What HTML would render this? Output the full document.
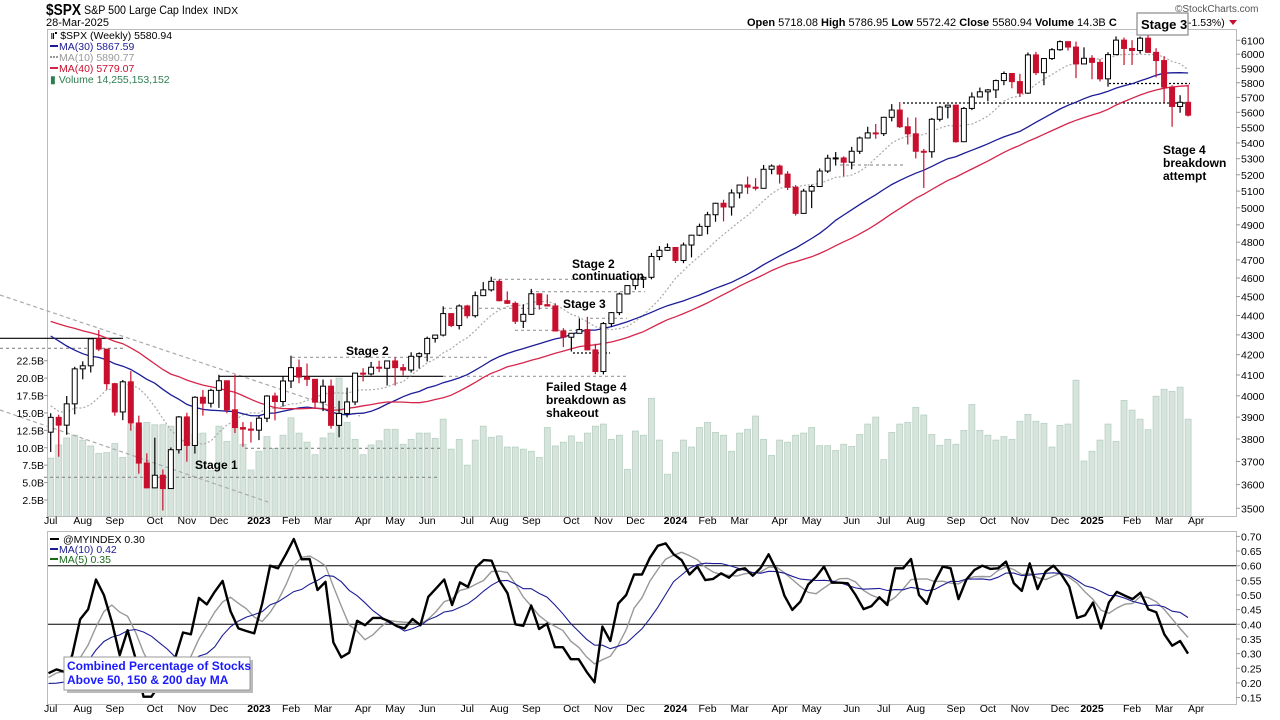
<!DOCTYPE html>
<html><head><meta charset="utf-8"><style>
html,body{margin:0;padding:0;background:#fff;}
svg{display:block;font-family:"Liberation Sans",Arial,sans-serif;}
</style></head><body>
<svg id="chart" width="1280" height="720" viewBox="0 0 1280 720" xmlns="http://www.w3.org/2000/svg">
<rect x="0" y="0" width="1280" height="720" fill="#fff"/>
<g>
<text x="46" y="15" font-size="15.5" font-weight="bold" fill="#000" textLength="35" lengthAdjust="spacingAndGlyphs">$SPX</text>
<text x="84" y="14" font-size="12" fill="#000" textLength="124" lengthAdjust="spacingAndGlyphs">S&amp;P 500 Large Cap Index</text>
<text x="213" y="14" font-size="10.5" fill="#000">INDX</text>
<text x="46" y="26" font-size="11" fill="#000">28-Mar-2025</text>
<text x="1175" y="12" font-size="10" fill="#555">©StockCharts.com</text>
<text x="747" y="26" font-size="11" fill="#000"><tspan font-weight="bold">Open</tspan> 5718.08  <tspan font-weight="bold">High</tspan> 5786.95  <tspan font-weight="bold">Low</tspan> 5572.42  <tspan font-weight="bold">Close</tspan> 5580.94  <tspan font-weight="bold">Volume</tspan> 14.3B  <tspan font-weight="bold">C</tspan></text>
<text x="1188" y="26" font-size="10.5" fill="#000">-1.53%)</text>
<polygon points="1229,20 1237,20 1233,25" fill="#c8102e"/>
</g>
<rect x="47.5" y="29.5" width="1189" height="487" fill="none" stroke="#bbb"/>
<rect x="47.5" y="531.5" width="1189" height="173" fill="none" stroke="#bbb"/>
<defs>
<clipPath id="mainClip"><rect x="48" y="30" width="1188" height="486"/></clipPath>
<clipPath id="lowClip"><rect x="48" y="532" width="1188" height="172"/></clipPath>
</defs>
<g id="volG" clip-path="url(#mainClip)"></g>
<g id="annoLines"></g>
<g id="maG" clip-path="url(#mainClip)"></g>
<g id="candleG" clip-path="url(#mainClip)"></g>
<g id="axisG"></g>
<g id="lowG" clip-path="url(#lowClip)"></g>
<g font-size="10.5">
<rect x="48" y="30" width="165" height="55" fill="#fff" opacity="0.85"/>
<text x="51" y="39" fill="#000">⑈ $SPX (Weekly) 5580.94</text>
<line x1="50" y1="46" x2="58" y2="46" stroke="#1c1c96" stroke-width="2"/><text x="59" y="50" fill="#1c1c96">MA(30) 5867.59</text>
<line x1="50" y1="57" x2="58" y2="57" stroke="#999" stroke-width="2" stroke-dasharray="2,1"/><text x="59" y="61" fill="#999">MA(10) 5890.77</text>
<line x1="50" y1="68" x2="58" y2="68" stroke="#d6254a" stroke-width="2"/><text x="59" y="72" fill="#c8102e">MA(40) 5779.07</text>
<text x="50" y="83" fill="#2e7d4f">▮ Volume 14,255,153,152</text>
</g>
<g font-size="10.5">
<line x1="50" y1="539" x2="59" y2="539" stroke="#000" stroke-width="2"/><text x="63" y="543" fill="#000">@MYINDEX 0.30</text>
<line x1="50" y1="549" x2="58" y2="549" stroke="#1c1c96" stroke-width="2"/><text x="59" y="553" fill="#1c1c96">MA(10) 0.42</text>
<line x1="50" y1="559" x2="58" y2="559" stroke="#1b6b1b" stroke-width="2"/><text x="59" y="563" fill="#1b6b1b">MA(5) 0.35</text>
</g>
<g font-size="12" font-weight="bold" fill="#000">
<text x="346" y="355">Stage 2</text>
<text x="195" y="469">Stage 1</text>
<text x="572" y="268">Stage 2</text>
<text x="572" y="280">continuation</text>
<text x="563" y="308">Stage 3</text>
<text x="546" y="391">Failed Stage 4</text>
<text x="546" y="404">breakdown as</text>
<text x="546" y="417">shakeout</text>
<text x="1163" y="154">Stage 4</text>
<text x="1163" y="167">breakdown</text>
<text x="1163" y="180">attempt</text>
</g>
<g>
<rect x="1137" y="13" width="51" height="22" fill="#fff" stroke="#888" stroke-width="1.2"/>
<text x="1141" y="29" font-size="13" font-weight="bold">Stage 3</text>
</g>
<g>
<rect x="67" y="660" width="186" height="33" fill="#bbb"/>
<rect x="64" y="657" width="186" height="33" fill="#fff" stroke="#999"/>
<text x="67" y="670" font-size="12" font-weight="bold" fill="#1a1aff">Combined Percentage of Stocks</text>
<text x="67" y="684" font-size="12" font-weight="bold" fill="#1a1aff">Above 50, 150 &amp; 200 day MA</text>
</g>
</svg>
<script>
// ---- data ----
const preCloses=[4357,4391,4471,4545,4605,4698,4683,4698,4595,4538,4712,4620,4725,4766,4677,4663,4398,4432,4501,4419,4349,4385,4329,4204,4463,4543,4546,4488,4393,4272,4132,4123,4024,3901,4158,4109,3901,3675,3912,3825];
const closes=[3899,3863,3962,4130,4145,4280,4228,4058,3924,4067,3873,3693,3586,3640,3583,3752,3901,3771,3993,3965,4026,4072,3934,3852,3845,3840,
3895,3999,3973,4071,4136,4090,4079,3970,4046,3862,3917,3971,4109,4105,4138,4133,4169,4136,4124,4192,4205,4282,4299,4410,4348,4450,4399,4505,4536,4582,4478,4464,4370,4406,4515,4457,4450,4320,4288,4308,4327,4224,4117,4358,4415,4514,4559,4594,4604,4719,4754,4770,
4697,4784,4840,4891,4959,5027,5005,5089,5137,5124,5117,5234,5254,5204,5123,4967,5100,5128,5223,5303,5305,5278,5347,5432,5465,5460,5567,5615,5505,5459,5347,5344,5554,5635,5648,5408,5626,5703,5738,5751,5815,5864,5808,5729,5995,5870,5969,6032,6090,6051,5931,5971,
5942,5827,5997,6101,6041,6026,6115,6013,5955,5770,5639,5667,5581];
const highs=[3918,3911,3999,4140,4167,4280,4325,4203,4062,4076,4119,3907,3736,3806,3665,3762,3905,3920,3998,4028,4034,4101,4052,4101,3877,3878,
3906,4003,4015,4095,4195,4176,4156,4048,4078,4078,3976,4039,4110,4133,4164,4170,4170,4187,4154,4212,4212,4291,4299,4448,4410,4458,4456,4527,4578,4607,4594,4528,4474,4459,4541,4514,4511,4464,4334,4310,4385,4393,4255,4366,4418,4521,4560,4600,4609,4739,4778,4793,
4772,4798,4842,4907,4976,5030,5048,5111,5140,5189,5179,5261,5264,5263,5222,5136,5114,5139,5239,5325,5342,5315,5375,5441,5505,5523,5570,5655,5669,5566,5566,5362,5563,5643,5651,5651,5636,5734,5767,5757,5822,5878,5863,5862,6012,6017,5972,6044,6099,6085,6090,6049,
5993,5965,6014,6128,6120,6101,6127,6147,6043,5986,5783,5715,5787];
const lows=[3742,3721,3819,3913,4079,4112,4218,4029,3907,3886,3838,3647,3584,3588,3491,3590,3735,3699,3735,3907,3945,3943,3918,3827,3765,3784,
3795,3877,3885,3949,4037,4060,4047,3943,3928,3847,3808,3899,3956,4069,4098,4114,4049,4049,4098,4112,4132,4166,4261,4292,4340,4328,4385,4389,4502,4527,4474,4461,4356,4335,4403,4431,4447,4318,4238,4216,4307,4223,4104,4103,4340,4402,4511,4537,4546,4593,4698,4751,
4683,4682,4714,4835,4845,4918,4920,4954,5056,5083,5104,5117,5203,5146,5107,4954,4990,4998,5127,5211,5257,5191,5234,5330,5432,5427,5445,5540,5497,5390,5302,5119,5306,5540,5560,5402,5406,5615,5703,5674,5696,5783,5762,5703,5724,5853,5783,5959,6024,6026,5832,5933,
5824,5809,5773,6006,5923,5924,6004,6008,5837,5666,5505,5597,5572];
const volumesB=[8.5,10.4,11.4,11.8,11.1,10.25,9.2,9.3,10.6,8.6,13.3,13.0,13.65,13.3,13.3,13.1,14.4,14.2,12.0,12.1,6.7,13.1,10.9,14.7,10.5,6.8,9.5,11.6,9.9,11.8,14.3,12.1,10.8,9.0,11.4,12.1,20.0,13.65,11.2,9.0,10.4,11.0,12.65,12.65,10.5,11.2,12.1,12.1,
11.35,14.1,9.8,11.2,7.5,11.1,13.1,11.5,11.7,10.1,10.1,9.8,9.5,8.6,12.9,10.25,10.8,11.7,10.8,12.1,13.1,13.4,11.2,11.8,6.9,12.4,11.8,17.1,11.1,6.2,9.35,11.1,10.1,12.9,13.65,12.2,11.8,9.5,12.1,12.65,14.55,11.2,8.9,11.1,10.8,11.8,12.1,12.9,
10.3,10.3,9.6,10.5,10.2,11.9,13.4,14.4,8.3,12.2,13.4,13.65,15.8,14.7,11.9,10.35,11.2,10.5,12.5,16.2,12.5,11.8,11.1,11.6,11.2,13.8,14.8,13.8,13.5,10.1,13.2,13.4,19.7,8.1,9.5,11.1,13.4,10.9,16.8,15.4,14.1,12.6,17.4,18.4,18.1,18.7,14.1];
const preIndex=[0.28,0.24,0.2,0.17,0.14,0.14,0.17,0.21,0.26,0.22];
const indexVals=[0.233,0.246,0.238,0.295,0.417,0.451,0.553,0.50,0.409,0.295,0.38,0.284,0.153,0.153,0.193,0.238,0.284,0.372,0.366,0.49,0.468,0.511,0.548,0.445,0.386,0.377,0.369,0.471,0.60,0.591,0.639,0.691,0.622,0.623,0.517,0.545,0.338,0.287,0.303,0.412,0.397,0.422,0.422,0.411,0.394,0.386,0.418,0.397,0.494,
0.523,0.553,0.466,0.543,0.528,0.594,0.619,0.617,0.548,0.506,0.40,0.395,0.464,0.384,0.402,0.322,0.322,0.281,0.281,0.238,0.202,0.392,0.343,0.471,0.50,0.57,0.57,0.627,0.668,0.676,0.639,0.619,0.57,0.597,0.551,0.555,0.574,0.559,0.585,0.591,0.566,0.593,0.639,0.585,0.498,0.449,0.477,0.536,0.562,0.597,0.542,0.542,
0.54,0.50,0.452,0.462,0.492,0.466,0.591,0.591,0.623,0.50,0.47,0.545,0.597,0.591,0.486,0.553,0.585,0.60,0.589,0.591,0.614,0.54,0.514,0.608,0.52,0.58,0.60,0.57,0.528,0.422,0.431,0.474,0.386,0.474,0.511,0.498,0.486,0.508,0.451,0.441,0.366,0.327,0.343,0.30];
const priceTicks=[3500,3600,3700,3800,3900,4000,4100,4200,4300,4400,4500,4600,4700,4800,4900,5000,5100,5200,5300,5400,5500,5600,5700,5800,5900,6000,6100];
const volTicks=[2.5,5.0,7.5,10.0,12.5,15.0,17.5,20.0,22.5];
const indexTicks=[0.15,0.20,0.25,0.30,0.35,0.40,0.45,0.50,0.55,0.60,0.65,0.70];
const refLevels=[0.40,0.60];
const firstWeek=new Date(2022,6,8);

const NS="http://www.w3.org/2000/svg";
const xC=i=>50.7+i*8.01;
const yP=p=>508.3-842.5*Math.log(p/3500);
const yV=v=>517.4-6.965*v;
const yI=v=>565.7-(v-0.60)*293;
const xI=i=>48.5+i*(1188-48.5)/(indexVals.length-1);
function mk(tag,attrs,parent,text){const e=document.createElementNS(NS,tag);for(const k in attrs)e.setAttribute(k,attrs[k]);if(text!==undefined)e.textContent=text;parent.appendChild(e);return e;}
const G=id=>document.getElementById(id);

volumesB.forEach((v,i)=>{
 const r=mk('rect',{x:xC(i)-3,y:yV(v),width:6,height:517.4-yV(v),fill:'#d6e4dd',stroke:'#b9d0c3','stroke-width':0.8},G('volG'));
 
 
});

const all=preCloses.concat(closes);
function maPath(n,color,w,dash,name){
 let d='';
 closes.forEach((c,i)=>{const k=i+preCloses.length;let s=0;for(let j=k-n+1;j<=k;j++)s+=all[j];const m=s/n;d+=(i?'L':'M')+xC(i).toFixed(1)+' '+yP(m).toFixed(1);});
 const p=mk('path',{d:d,fill:'none',stroke:color,'stroke-width':w,'stroke-dasharray':dash||'none'},G('maG'));
 
 
}
maPath(10,'#aaa',1.2,'2,2','ma10-line');
maPath(30,'#1c1c96',1.3,null,'ma30-line');
maPath(40,'#d6254a',1.3,null,'ma40-line');

closes.forEach((c,i)=>{
 const o=i?closes[i-1]:3831;
 const up=c>=o;const col=up?'#000':'#c8102e';
 const x=xC(i);
 const w=mk('line',{x1:x,x2:x,y1:yP(highs[i]),y2:yP(lows[i]),stroke:col,'stroke-width':1.2},G('candleG'));
 
 
 const top=yP(Math.max(o,c)),bot=yP(Math.min(o,c));
 const b=mk('rect',{x:x-2.5,y:top,width:5,height:Math.max(1,bot-top),fill:up?'#fff':'#c8102e',stroke:col,'stroke-width':1},G('candleG'));
 
 
});

const A=G('annoLines');
[[0,295,360,416,'#aaa','4,3'],[0,410,268,502,'#aaa','4,3'],
 [0,338.3,123,338.3,'#000',null],[0,348.3,123,348.3,'#888','3,3'],
 [219,376.3,443,376.3,'#000',null],[219,376.3,219,383,'#000',null],[443,376.3,627,376.3,'#999','3,3'],
 [292,357.3,490,357.3,'#999','3,3'],[245,448.3,440,448.3,'#888','3,3'],[44,477.3,440,477.3,'#888','3,3'],
 [493,279.3,647,279.3,'#999','3,3'],[530,291.7,645,291.7,'#999','3,3'],[443,308.3,557,308.3,'#999','3,3'],
 [515,330.3,587,330.3,'#999','3,3'],[590,318.3,627,318.3,'#999','3,3'],[573,353,610,353,'#000','2,2'],
 [903,103,1190,103,'#000','2,2'],[1109,83.5,1190,83.5,'#000','2,2'],[840,165,905,165,'#999','3,3']
].forEach(l=>{const e=mk('line',{x1:l[0],y1:l[1],x2:l[2],y2:l[3],stroke:l[4],'stroke-width':1.2,'stroke-dasharray':l[5]||'none'},A);
 
 });

const AX=G('axisG');
priceTicks.forEach(p=>{const y=yP(p);mk('line',{x1:1236,x2:1240,y1:y,y2:y,stroke:'#999'},AX);
 const t=mk('text',{x:1241,y:y+4,'font-size':10.5,fill:'#000'},AX,String(p));
 
 });
volTicks.forEach(v=>{const y=yV(v);mk('line',{x1:44,x2:48,y1:y,y2:y,stroke:'#999'},AX);
 const t=mk('text',{x:44,y:y+4,'font-size':10.5,fill:'#000','text-anchor':'end'},AX,v.toFixed(1)+'B');
 
 });
indexTicks.forEach(v=>{const y=yI(v);mk('line',{x1:1236,x2:1240,y1:y,y2:y,stroke:'#999'},AX);
 const t=mk('text',{x:1241,y:y+4,'font-size':10.5,fill:'#000'},AX,v.toFixed(2));
 
 });
const mnames=['Jan','Feb','Mar','Apr','May','Jun','Jul','Aug','Sep','Oct','Nov','Dec'];
let prevM=-1;
for(let i=0;i<closes.length+2;i++){
 const d=new Date(firstWeek.getTime()+i*7*86400000);
 if(d.getMonth()!==prevM){prevM=d.getMonth();
  const lab=d.getMonth()===0?String(d.getFullYear()):mnames[d.getMonth()];
  [524,712].forEach(yy=>{const t=mk('text',{x:xC(i),y:yy,'font-size':10.5,'text-anchor':'middle','font-weight':d.getMonth()===0?'bold':'normal',fill:'#000'},AX,lab);
   
   });
 }
}

const L=G('lowG');
refLevels.forEach(v=>{const e=mk('line',{x1:48,x2:1236,y1:yI(v),y2:yI(v),stroke:'#000','stroke-width':1},L);
 
 });
const allI=preIndex.concat(indexVals);
function imaPath(n,color,w,name){let d='';indexVals.forEach((v,i)=>{const k=i+preIndex.length;let s=0;for(let j=k-n+1;j<=k;j++)s+=allI[j];d+=(i?'L':'M')+xI(i).toFixed(1)+' '+yI(s/n).toFixed(1);});
 const p=mk('path',{d:d,fill:'none',stroke:color,'stroke-width':w},L);
 
 }
imaPath(5,'#999',1.4,'index-ma5-line');
imaPath(10,'#1c1c96',1.1,'index-ma10-line');
let di='';indexVals.forEach((v,i)=>{di+=(i?'L':'M')+xI(i).toFixed(1)+' '+yI(v).toFixed(1);});
const ip=mk('path',{d:di,fill:'none',stroke:'#000','stroke-width':2.4,'stroke-linejoin':'round'},L);


</script>
</body></html>
